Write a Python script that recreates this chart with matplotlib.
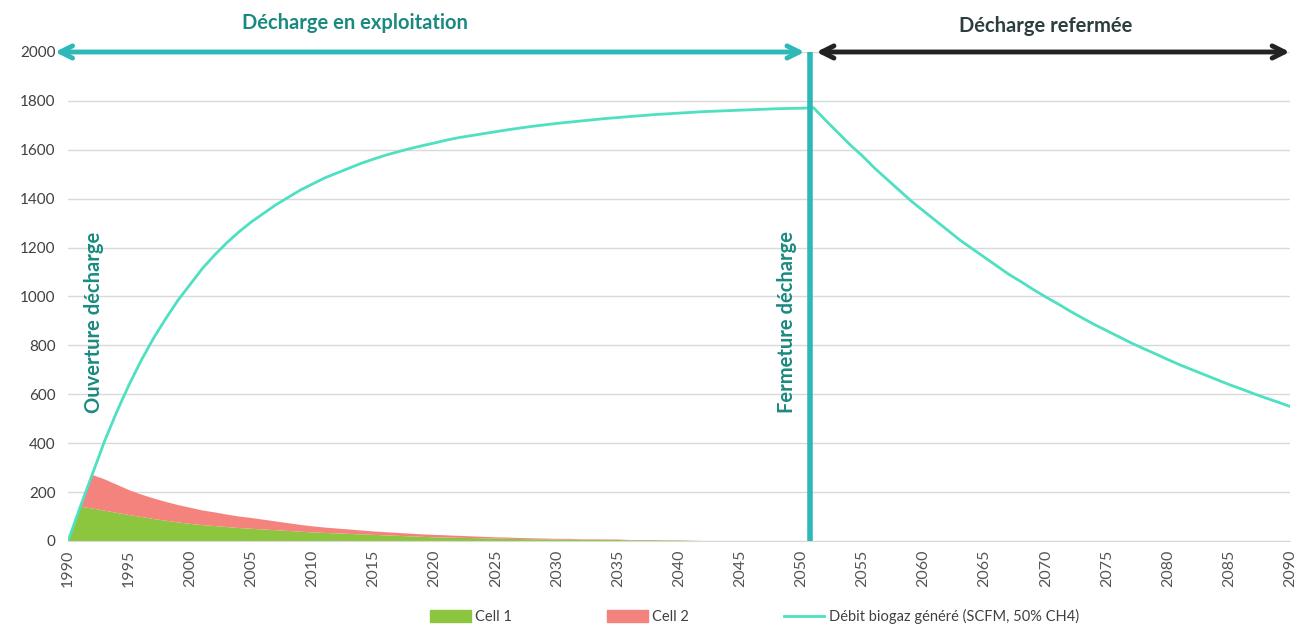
import numpy as np
import matplotlib.pyplot as plt
import matplotlib.patches as mpatches
from matplotlib.lines import Line2D

plt.rcParams['font.family'] = ['Lato', 'DejaVu Sans']

# years for the biogas curve
years = list(range(1990, 2091))
biogas = [0, 140, 275, 410, 530, 640, 740, 830, 910, 985,
          1050, 1115, 1170, 1220, 1265, 1305, 1340, 1375, 1405, 1435,
          1460, 1485, 1505, 1525, 1545, 1562, 1578, 1592, 1605, 1617,
          1628, 1640, 1650, 1658, 1666, 1674, 1682, 1689, 1696, 1702,
          1708, 1713, 1718, 1723, 1728, 1732, 1736, 1740, 1744, 1747,
          1750, 1753, 1756, 1758, 1760, 1762, 1764, 1766, 1768, 1769,
          1770, 1772, 1720, 1670, 1620, 1575, 1525, 1480, 1435, 1390,
          1350, 1310, 1270, 1230, 1195, 1160, 1125, 1090, 1060, 1028,
          998, 970, 940, 912, 885, 860, 835, 810, 787, 765,
          742, 720, 700, 680, 660, 640, 622, 603, 585, 568,
          550]

# cells (stacked areas)
cell_years = list(range(1990, 2043))
cell1 = [0, 140, 133, 124, 115, 106, 98, 90, 83, 76,
         70, 65, 61, 57, 53, 50, 47, 44, 41, 38,
         35, 33, 31, 29, 27, 25, 23, 21, 19, 17,
         15, 14, 13, 12, 11, 10, 9, 8, 7, 7,
         6, 6, 5, 5, 4, 4, 3, 3, 3, 2,
         2, 1, 0]
cell2 = [0, 0, 137, 128, 115, 102, 92, 84, 77, 71,
         66, 60, 56, 51, 47, 44, 40, 36, 32, 28,
         25, 22, 20, 18, 16, 14, 13, 12, 11, 10,
         10, 9, 8, 7, 6, 5, 5, 4, 4, 3,
         3, 3, 2, 2, 2, 2, 1, 1, 1, 1,
         1, 0, 0]

green = '#8cc63f'
red = '#f4837d'
line_col = '#4ee0c0'
teal = '#2eb8b8'
teal_text = '#1a8a80'

fig = plt.figure(figsize=(12.94, 6.34), dpi=100)
ax = fig.add_axes([0.0526, 0.1467, 0.9444, 0.7713])

ax.stackplot(cell_years, cell1, cell2, colors=[green, red], linewidth=0)
ax.plot(years, biogas, color=line_col, lw=2)

ax.set_xlim(1990, 2090)
ax.set_ylim(0, 2000)
ax.set_xticks(range(1990, 2091, 5))
ax.set_yticks(range(0, 2001, 200))
ax.tick_params(axis='x', rotation=90, labelsize=11.5, colors='#555555', length=0, pad=6)
ax.tick_params(axis='y', labelsize=11, colors='#404040', length=0, pad=9)
for s in ['top', 'right', 'left']:
    ax.spines[s].set_visible(False)
ax.spines['bottom'].set_color('#d9d9d9')
ax.grid(axis='y', color='#d9d9d9', lw=1)
ax.set_axisbelow(True)

# closing line and arrows
ax.plot([2050.7, 2050.7], [0, 2000], color=teal, lw=4, solid_capstyle='butt', clip_on=False)
ax.annotate('', xy=(1988.7, 2000), xytext=(2050.5, 2000),
            arrowprops=dict(arrowstyle='<->', color=teal, lw=3.5, mutation_scale=22),
            annotation_clip=False)
ax.annotate('', xy=(2051.0, 2000), xytext=(2090.2, 2000),
            arrowprops=dict(arrowstyle='<->', color='#222222', lw=3.5, mutation_scale=22),
            annotation_clip=False)

ax.text(2013.5, 2120, 'Décharge en exploitation', ha='center', va='center',
        fontsize=14.5, fontweight='bold', color=teal_text, clip_on=False)
ax.text(2070, 2108, 'Décharge refermée', ha='center', va='center',
        fontsize=14.5, fontweight='bold', color='#2d3e40', clip_on=False)
ax.text(1992.1, 896, 'Ouverture décharge', ha='center', va='center', rotation=90,
        fontsize=14.5, fontweight='bold', color=teal_text)
ax.text(2048.8, 896, 'Fermeture décharge', ha='center', va='center', rotation=90,
        fontsize=14.5, fontweight='bold', color=teal_text)

handles = [mpatches.Patch(color=green, label='Cell 1'),
           mpatches.Patch(color=red, label='Cell 2'),
           Line2D([], [], color=line_col, lw=2, label='Débit biogaz généré (SCFM, 50% CH4)')]
fig.legend(handles=handles, loc='lower center', bbox_to_anchor=(0.583, -0.005), ncol=3,
           frameon=False, fontsize=10.5, handlelength=2.8, handleheight=0.9,
           columnspacing=6.5, labelcolor='#404040', handletextpad=0.3)

fig.savefig('out.png', dpi=100)
